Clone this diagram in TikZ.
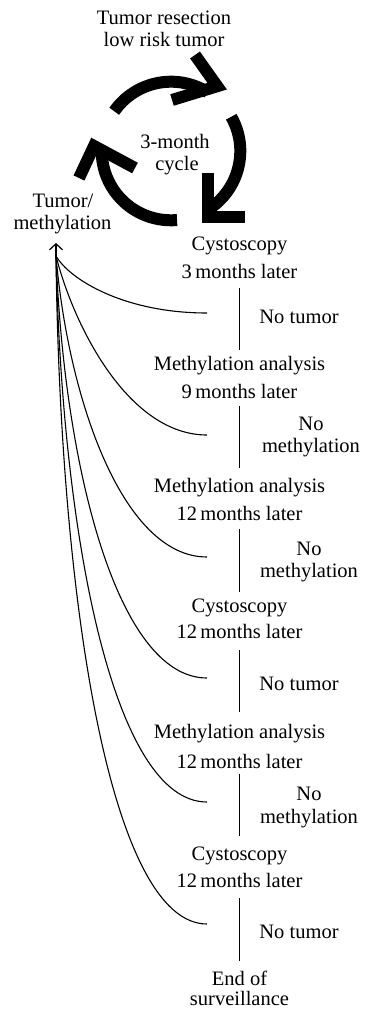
\documentclass[tikz,border=0pt]{standalone}
\usepackage{fontspec}
\setmainfont{Liberation Serif}
\usetikzlibrary{arrows.meta,calc}
\begin{document}
\begin{tikzpicture}[x=1pt,y=1pt,
  lbl/.style={font=\fontsize{20.5}{24}\selectfont, inner sep=0pt, anchor=base},
  cycarc/.style={line width=12pt, line cap=butt, line join=miter, miter limit=20},
  conn/.style={line width=1.1pt},
  flow/.style={line width=1.1pt},
  arr/.style={line width=1.1pt, -{Straight Barb[length=6pt,width=13pt,line width=1.2pt]}}]
\useasboundingbox (0,0) rectangle (364,-1009);
% top labels
\node[lbl] (t1) at (164,-24) {Tumor resection};
\node[lbl] (t2) at (164,-46) {low risk tumor};
\node[lbl] (cy1) at (175,-148) {3-month};
\node[lbl] (cy2) at (177,-170) {cycle};
\node[lbl] (tm1) at (63,-207) {Tumor/};
\node[lbl] (tm2) at (62.5,-229) {methylation};
% cycle arrows
\coordinate (C) at (171,-151);
\draw[cycarc] ($(C)+(145:69.3)$) arc[start angle=145, end angle=58, radius=69.3];
\draw[cycarc] (195,-55) -- (217.2,-86.2) -- (172,-100);
\draw[cycarc] ($(C)+(29.6:69.3)$) arc[start angle=29.6, end angle=-58, radius=69.3];
\draw[cycarc] (207.5,-173) -- (207.5,-216.7) -- (245,-216.7);
\draw[cycarc] ($(C)+(-85:69.3)$) arc[start angle=-85, end angle=-180, radius=69.3];
\draw[cycarc] (79,-178) -- (94,-146) -- (135,-168);
% stages
\node[lbl] (s1a) at (239.5,-250) {Cystoscopy};
\node[lbl] (s1b) at (239.5,-278) {3\,months later};
\node[lbl] (n1) at (299,-323) {No tumor};
\node[lbl] (s2a) at (239.5,-370) {Methylation analysis};
\node[lbl] (s2b) at (239.5,-398) {9\,months later};
\node[lbl] (n2a) at (311,-430) {No};
\node[lbl] (n2b) at (311,-452) {methylation};
\node[lbl] (s3a) at (239.5,-492) {Methylation analysis};
\node[lbl] (s3b) at (239.5,-520) {12\,months later};
\node[lbl] (n3a) at (309,-555) {No};
\node[lbl] (n3b) at (309,-577) {methylation};
\node[lbl] (s4a) at (239.5,-612) {Cystoscopy};
\node[lbl] (s4b) at (239.5,-638) {12\,months later};
\node[lbl] (n4) at (299,-690) {No tumor};
\node[lbl] (s5a) at (239.5,-738) {Methylation analysis};
\node[lbl] (s5b) at (239.5,-768) {12\,months later};
\node[lbl] (n5a) at (309,-800) {No};
\node[lbl] (n5b) at (309,-823) {methylation};
\node[lbl] (s6a) at (239.5,-860) {Cystoscopy};
\node[lbl] (s6b) at (239.5,-887) {12\,months later};
\node[lbl] (n6) at (299,-938) {No tumor};
\node[lbl] (e1) at (239.5,-985) {End of};
\node[lbl] (e2) at (239.5,-1005) {surveillance};
% vertical connectors
\draw[conn] ([yshift=-10pt]s1b.base) -- ([yshift=20pt]s2a.base);
\draw[conn] ([yshift=-8pt]s2b.base) -- ([yshift=24pt]s3a.base);
\draw[conn] ([yshift=-9pt]s3b.base) -- ([yshift=20pt]s4a.base);
\draw[conn] ([yshift=-12pt]s4b.base) -- ([yshift=26pt]s5a.base);
\draw[conn] ([yshift=-6pt]s5b.base) -- ([yshift=24pt]s6a.base);
\draw[conn] ([yshift=-11pt]s6b.base) -- ([yshift=24pt]e1.base);
% feedback curves
\coordinate (hub) at (56,-256);
\coordinate (tip) at (56,-243);
\coordinate (c1) at (207,-313);
\coordinate (c2) at (207,-435);
\coordinate (c3) at (207,-557);
\coordinate (c4) at (207,-678);
\coordinate (c5) at (207,-802);
\coordinate (c6) at (207,-924);
\draw[arr] (hub) -- (tip);
\draw[flow] (hub) .. controls (70,-280) and (125,-313) .. (c1);
\draw[flow] (hub) .. controls (75,-330) and (130,-435) .. (c2);
\draw[flow] (hub) .. controls (68,-397) and (122,-557) .. (c3);
\draw[flow] (hub) .. controls (64,-466) and (117,-678) .. (c4);
\draw[flow] (hub) .. controls (62,-535) and (113,-802) .. (c5);
\draw[flow] (hub) .. controls (60,-600) and (110,-924) .. (c6);
\end{tikzpicture}
\end{document}
